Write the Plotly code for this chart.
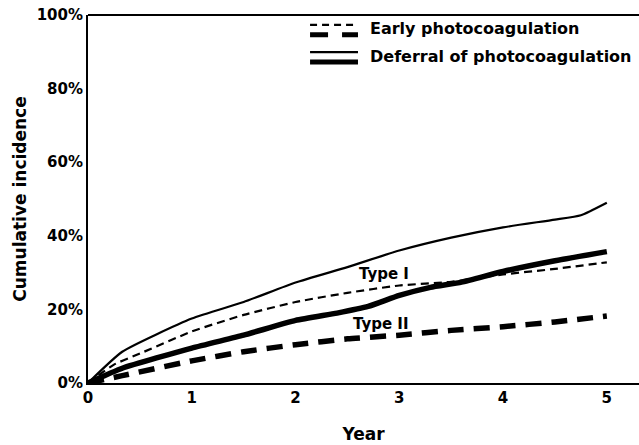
import plotly.graph_objects as go

# Years and cumulative incidence (%)
t1_def_x = [0, 0.33, 1, 1.5, 2, 2.5, 3, 3.5, 4, 4.5, 4.75, 5]
t1_def_y = [0, 8.5, 17.5, 22, 27.3, 31.5, 36, 39.5, 42.3, 44.4, 45.6, 49]

t1_early_x = [0, 0.25, 0.5, 1, 1.5, 2, 2.5, 3, 3.5, 4, 4.5, 5]
t1_early_y = [0, 5, 8, 14, 18.5, 22, 24.5, 26.5, 27.5, 29.5, 31, 32.8]

t2_def_x = [0, 0.33, 1, 1.5, 2, 2.4, 2.7, 3, 3.3, 3.6, 4, 4.5, 5]
t2_def_y = [0, 4, 9.5, 13, 17, 19, 20.8, 23.8, 26.0, 27.4, 30.3, 33.2, 35.7]

t2_early_x = [0, 0.33, 1, 1.5, 2, 2.5, 3, 3.5, 4, 4.5, 5]
t2_early_y = [0, 2, 6, 8.5, 10.4, 12, 13, 14.3, 15.3, 16.6, 18.2]

y_ticks = [0, 20, 40, 60, 80, 100]
y_tick_text = ["0%", "20%", "40%", "60%", "80%", "100%"]
x_ticks = [0, 1, 2, 3, 4, 5]
legend_labels = ["Early photocoagulation", "Deferral of photocoagulation"]
curve_labels = [("Type I", 2.85, 29.6), ("Type II", 2.82, 16.0)]

FONT = "DejaVu Sans"
fig = go.Figure()

fig.add_trace(go.Scatter(x=t1_def_x, y=t1_def_y, mode="lines",
                         line=dict(color="black", width=2.2, shape="spline", smoothing=0.5)))
fig.add_trace(go.Scatter(x=t1_early_x, y=t1_early_y, mode="lines",
                         line=dict(color="black", width=2.2, dash="8px,5px",
                                   shape="spline", smoothing=0.5)))
fig.add_trace(go.Scatter(x=t2_def_x, y=t2_def_y, mode="lines",
                         line=dict(color="black", width=5.5, shape="spline", smoothing=0.5)))
fig.add_trace(go.Scatter(x=t2_early_x, y=t2_early_y, mode="lines",
                         line=dict(color="black", width=5.5, dash="16px,10px",
                                   shape="spline", smoothing=0.5)))

for txt, xx, yy in curve_labels:
    fig.add_annotation(x=xx, y=yy, text=txt, showarrow=False,
                       font=dict(family=FONT, size=15, color="black", weight="bold"))

# custom legend
x0, x1 = 0.403, 0.49
shapes = [
    dict(type="line", xref="paper", yref="paper", x0=0, x1=1, y0=1, y1=1,
         line=dict(color="black", width=2)),
    dict(type="line", xref="paper", yref="paper", x0=x0, x1=x1, y0=0.973, y1=0.973,
         line=dict(color="black", width=2.2, dash="7px,5px")),
    dict(type="line", xref="paper", yref="paper", x0=x0, x1=x1, y0=0.946, y1=0.946,
         line=dict(color="black", width=5, dash="18px,14px")),
    dict(type="line", xref="paper", yref="paper", x0=x0, x1=x1, y0=0.899, y1=0.899,
         line=dict(color="black", width=2.2)),
    dict(type="line", xref="paper", yref="paper", x0=x0, x1=x1, y0=0.872, y1=0.872,
         line=dict(color="black", width=5)),
]
for lab, yy in zip(legend_labels, [0.962, 0.886]):
    fig.add_annotation(xref="paper", yref="paper", x=0.508, y=yy, text=lab,
                       showarrow=False, xanchor="left", yanchor="middle",
                       font=dict(family=FONT, size=16, color="black", weight="bold"))

fig.update_layout(
    width=639, height=445,
    margin=dict(l=88, r=0, t=15, b=62),
    paper_bgcolor="white", plot_bgcolor="white",
    showlegend=False,
    shapes=shapes,
    font=dict(family=FONT, color="black"),
)
fig.update_xaxes(range=[0, 5.31], tickvals=x_ticks, showgrid=False, zeroline=False,
                 showline=True, linecolor="black", linewidth=2, ticks="",
                 tickfont=dict(family=FONT, size=15, color="black", weight="bold"),
                 title=dict(text="Year", standoff=22,
                            font=dict(family=FONT, size=17, color="black", weight="bold")))
fig.update_yaxes(range=[0, 100], tickvals=y_ticks, ticktext=y_tick_text, showgrid=False,
                 zeroline=False, showline=True, linecolor="black", linewidth=2, ticks="",
                 tickfont=dict(family=FONT, size=15, color="black", weight="bold"),
                 title=dict(text="Cumulative incidence", standoff=6,
                            font=dict(family=FONT, size=17, color="black", weight="bold")))

fig.write_html("out.html")
